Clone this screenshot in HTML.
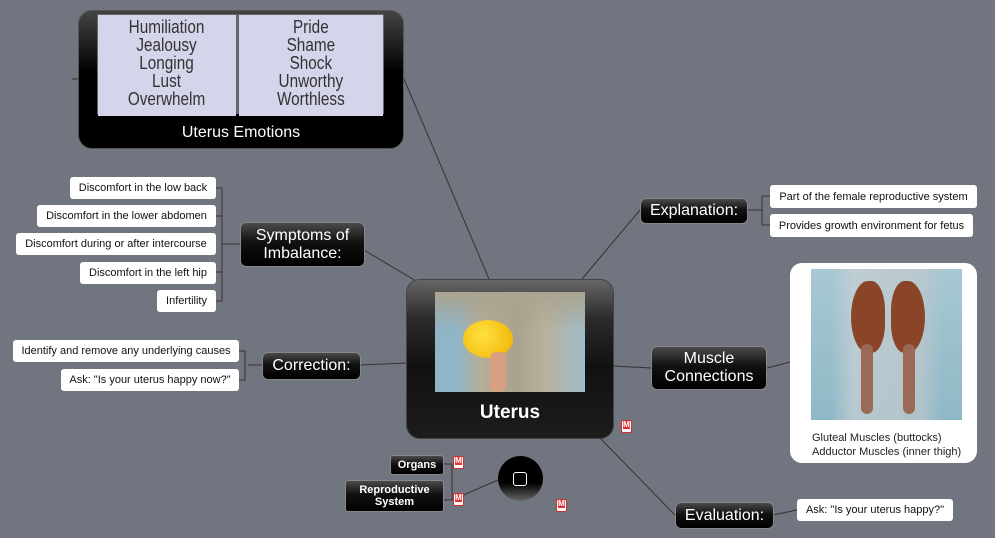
<!DOCTYPE html>
<html><head><meta charset="utf-8"><style>
body{margin:0;width:995px;height:538px;background:#70757f;position:relative;overflow:hidden;font-family:"Liberation Sans",sans-serif}
.a{position:absolute;box-sizing:border-box}
.leaf{position:absolute;box-sizing:border-box;background:#fff;border-radius:3px;font-size:11px;color:#111;display:flex;align-items:center;justify-content:center;white-space:nowrap}
.nd{position:absolute;box-sizing:border-box;background:linear-gradient(#4a4a4a,#111 45%,#000);border:1px solid #888;border-radius:6px;color:#fff;display:flex;align-items:center;justify-content:center;text-align:center;line-height:1.1;font-size:16px}
.ic{position:absolute;width:11px;height:13px;background:#fff;border:1px solid #c33;border-radius:2px;box-sizing:border-box}
.ic:after{content:"M";position:absolute;left:1px;top:0;font-size:8px;font-weight:bold;color:#fff;background:#d33;width:7px;height:8px;line-height:8px;text-align:center}
.em{position:absolute;top:15px;height:98px;background:#d4d4ea;color:#333;font-size:18px;line-height:18px;text-align:center;padding-top:3px}
.em span{display:inline-block;transform:scaleX(0.85)}
</style></head><body>
<svg class="a" style="left:0;top:0" width="995" height="538">
<g stroke="#333" stroke-width="1" fill="none">
<path d="M404 79 L489 279"/><path d="M72 79 L78 79"/>
<path d="M364 250 L416 281"/>
<path d="M582 279 L640 210"/>
<path d="M360 365 L406 363"/>
<path d="M613 366 L651 368"/>
<path d="M600 438 L675 515"/>
<path d="M747 210 L762 210 M762 196 L770 196 M762 225 L770 225 M762 196 L762 225"/>
<path d="M767 368 L790 362"/>
<path d="M773 515 L797 510"/>
<path d="M240 244 L222 244 M216 188 L222 188 L222 301 L216 301 M216 216 L222 216 M216 272 L222 272"/>
<path d="M262 365 L248 365 M239 351 L245 351 L245 380 L239 380"/>
<path d="M444 464 L452 464 M444 500 L452 500 M452 464 L452 500 L498 480"/>
</g></svg>

<div class="a" style="left:78px;top:10px;width:326px;height:139px;border-radius:14px;background:linear-gradient(#444,#000 45%,#000);border:1px solid #555"></div>
<div class="a" style="left:97px;top:14px;width:287px;height:100px;background:#666;border:1px solid #666"></div>
<div class="em" style="left:98px;width:138px"><span>Humiliation<br>Jealousy<br>Longing<br>Lust<br>Overwhelm</span></div>
<div class="em" style="left:239px;width:144px"><span>Pride<br>Shame<br>Shock<br>Unworthy<br>Worthless</span></div>
<div class="a" style="left:78px;top:124px;width:326px;text-align:center;color:#fff;font-size:16px">Uterus Emotions</div>

<div class="a" style="left:406px;top:279px;width:208px;height:160px;border-radius:14px;background:linear-gradient(#666,#2a2a2a 25%,#111 55%,#1c1c1c);border:1px solid #444"></div>
<div class="a" style="left:435px;top:292px;width:150px;height:100px;background:linear-gradient(90deg,#8fb5c8,#8fb5c8 15%,#b5ae98 30%,#a8a28e 55%,#b8b29e 75%,#9fbccb);overflow:hidden">
<div class="a" style="left:0;top:0;width:150px;height:40px;background:linear-gradient(#aaa38f,transparent)"></div>
<div class="a" style="left:28px;top:28px;width:50px;height:38px;border-radius:50%;background:radial-gradient(circle at 40% 40%,#ffe040,#f0b000)"></div>
<div class="a" style="left:55px;top:60px;width:16px;height:40px;background:#d8a080;border-radius:6px"></div>
</div>
<div class="a" style="left:406px;top:402px;width:208px;text-align:center;color:#fff;font-size:19px;font-weight:bold">Uterus</div>

<div class="nd" style="left:240px;top:222px;width:125px;height:45px">Symptoms of<br>Imbalance:</div>
<div class="leaf" style="left:70px;top:177px;width:146px;height:22px">Discomfort in the low back</div>
<div class="leaf" style="left:37px;top:205px;width:179px;height:22px">Discomfort in the lower abdomen</div>
<div class="leaf" style="left:16px;top:233px;width:200px;height:22px">Discomfort during or after intercourse</div>
<div class="leaf" style="left:80px;top:262px;width:136px;height:22px">Discomfort in the left hip</div>
<div class="leaf" style="left:157px;top:290px;width:59px;height:22px">Infertility</div>

<div class="nd" style="left:262px;top:352px;width:99px;height:28px">Correction:</div>
<div class="leaf" style="left:13px;top:340px;width:226px;height:22px">Identify and remove any underlying causes</div>
<div class="leaf" style="left:61px;top:369px;width:178px;height:22px">Ask: "Is your uterus happy now?"</div>

<div class="nd" style="left:640px;top:198px;width:108px;height:26px">Explanation:</div>
<div class="leaf" style="left:770px;top:185px;width:207px;height:23px">Part of the female reproductive system</div>
<div class="leaf" style="left:770px;top:214px;width:203px;height:23px">Provides growth environment for fetus</div>

<div class="nd" style="left:651px;top:346px;width:116px;height:44px">Muscle<br>Connections</div>
<div class="a" style="left:790px;top:263px;width:187px;height:200px;background:#fff;border-radius:12px"></div>
<div class="a" style="left:811px;top:269px;width:151px;height:151px;background:linear-gradient(#a8c8d2,#8fb8c6)">
<div class="a" style="left:20px;top:0;width:111px;height:151px;background:linear-gradient(90deg,transparent,#c8d0d4 20%,#c0c8cc 80%,transparent);opacity:.7"></div>
<div class="a" style="left:40px;top:12px;width:34px;height:72px;border-radius:50% 40% 40% 50%;background:#8a4528"></div>
<div class="a" style="left:80px;top:12px;width:34px;height:72px;border-radius:40% 50% 50% 40%;background:#8a4528"></div>
<div class="a" style="left:50px;top:75px;width:12px;height:70px;background:#9a6a55;border-radius:6px"></div>
<div class="a" style="left:92px;top:75px;width:12px;height:70px;background:#9a6a55;border-radius:6px"></div>
</div>
<div class="a" style="left:812px;top:431px;font-size:11px;color:#222;line-height:14px">Gluteal Muscles (buttocks)<br>Adductor Muscles (inner thigh)</div>

<div class="nd" style="left:675px;top:502px;width:99px;height:27px">Evaluation:</div>
<div class="leaf" style="left:797px;top:499px;width:156px;height:22px">Ask: "Is your uterus happy?"</div>

<div class="nd" style="left:390px;top:455px;width:54px;height:20px;font-size:11px;font-weight:bold;border-radius:3px">Organs</div>
<div class="nd" style="left:345px;top:480px;width:99px;height:32px;font-size:11px;font-weight:bold;border-radius:3px">Reproductive<br>System</div>
<div class="a" style="left:498px;top:456px;width:45px;height:45px;border-radius:50%;background:linear-gradient(#000 60%,#666)"></div>
<div class="a" style="left:513px;top:472px;width:14px;height:14px;border:1.5px solid #fff;border-radius:3px"></div>

<div class="ic" style="left:621px;top:420px"></div>
<div class="ic" style="left:453px;top:456px"></div>
<div class="ic" style="left:453px;top:493px"></div>
<div class="ic" style="left:556px;top:499px"></div>
</body></html>
